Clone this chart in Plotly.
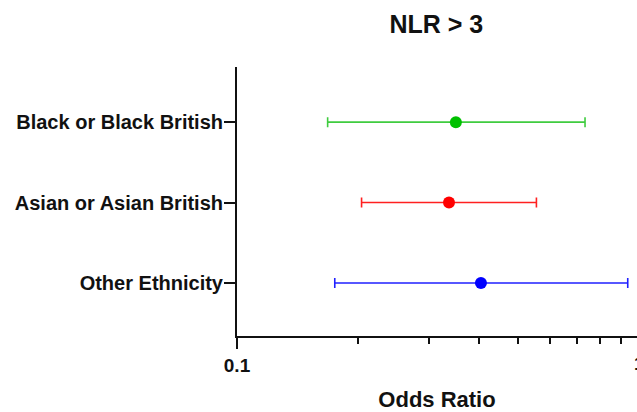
import numpy as np
import plotly.graph_objects as go

categories = ["Other Ethnicity", "Asian or Asian British", "Black or Black British"]
odds_ratio = [0.404, 0.3365, 0.350]
ci_low = [0.175, 0.204, 0.168]
ci_high = [0.936, 0.555, 0.733]
marker_colors = ["#0000ff", "#ff0000", "#00c000"]
line_colors = ["#2020ff", "#ff2020", "#3fcc3f"]
x_major_ticks = [0.1]
x_major_text = ["0.1"]
x_minor_ticks = [0.2, 0.3, 0.4, 0.5, 0.6, 0.7, 0.8, 0.9]

FONT = "Liberation Sans, Arial, Helvetica, sans-serif"

fig = go.Figure()
for cat, orv, lo, hi, mc, lc in zip(categories, odds_ratio, ci_low, ci_high, marker_colors, line_colors):
    fig.add_trace(go.Scatter(
        x=[orv], y=[cat], mode="markers",
        marker=dict(color=mc, size=12),
        error_x=dict(type="data", symmetric=False,
                     array=[hi - orv], arrayminus=[orv - lo],
                     color=lc, thickness=1.6, width=5),
        showlegend=False, cliponaxis=False,
    ))

fig.update_layout(
    width=637, height=412,
    margin=dict(l=237, r=0, t=67, b=76),
    paper_bgcolor="white", plot_bgcolor="white",
    title=dict(text="NLR > 3", x=0.685, xanchor="center", y=0.942, yanchor="middle",
               font=dict(family=FONT, size=25, color="#111", weight="bold")),
    font=dict(family=FONT, color="#111"),
)
fig.update_xaxes(
    type="log", range=[-1, -0.0057],
    tickmode="array", tickvals=x_major_ticks, ticktext=x_major_text,
    ticks="outside", ticklen=11, tickwidth=2, tickcolor="#111",
    minor=dict(tickmode="array", tickvals=x_minor_ticks, ticks="outside",
               ticklen=6, tickwidth=2, tickcolor="#111", showgrid=False),
    showline=True, linewidth=2, linecolor="#111",
    showgrid=False, zeroline=False,
    tickfont=dict(family=FONT, size=19, color="#111", weight="bold"),
    title=dict(text="Odds Ratio", standoff=22,
               font=dict(family=FONT, size=22, color="#111", weight="bold")),
)
fig.update_yaxes(
    type="category", categoryorder="array", categoryarray=categories,
    range=[-0.66, 2.686],
    ticks="outside", ticklen=11, tickwidth=2, tickcolor="#111",
    ticklabelstandoff=-3,
    showline=True, linewidth=2, linecolor="#111",
    showgrid=False, zeroline=False,
    tickfont=dict(family=FONT, size=20, color="#111", weight="bold"),
)
fig.add_annotation(x=1.0057, y=0, xref="paper", yref="paper", xanchor="center",
                   yanchor="top", yshift=-15, text="1", showarrow=False,
                   font=dict(family=FONT, size=19, color="#111", weight="bold"))

fig.write_html("out.html")
